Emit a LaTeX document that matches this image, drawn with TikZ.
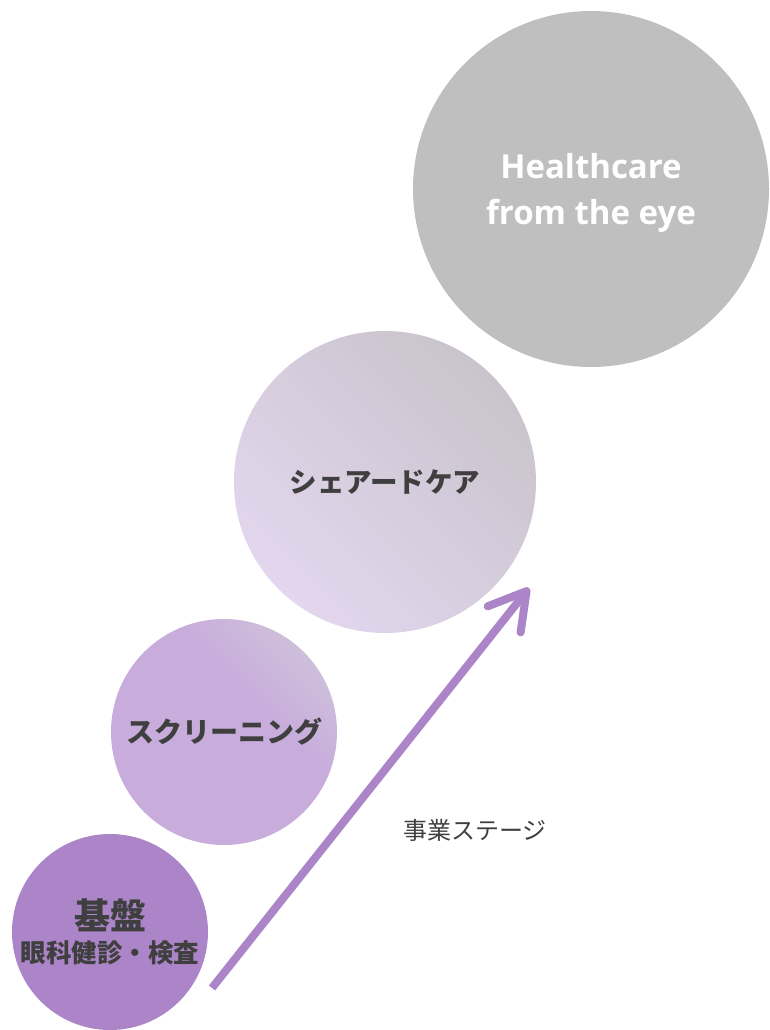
\documentclass[tikz,border=0pt]{standalone}
\usepackage{fontspec}
\usepackage{tikz}
\usetikzlibrary{arrows.meta}
\usetikzlibrary{positioning}
\newfontfamily\jp{Noto Sans CJK JP}
\newfontfamily\en{Open Sans}
\definecolor{txtgrey}{HTML}{3F3F3F}
\definecolor{kiban}{HTML}{AC84C8}
\definecolor{screen}{HTML}{C8ADDC}
\definecolor{screentop}{HTML}{D0C7D9}
\definecolor{sharedlo}{HTML}{E3D6EE}
\definecolor{sharedhi}{HTML}{C9C4CC}
\definecolor{goal}{HTML}{BFBFBF}
\definecolor{arrowc}{HTML}{AC84C8}
\pgfdeclarehorizontalshading{screenfade}{100bp}{color(0bp)=(screen); color(60bp)=(screen); color(82bp)=(screentop); color(100bp)=(screentop)}
\tikzset{every picture/.style={x=1pt,y=1pt},
stage/.style={circle,inner sep=0pt,text=txtgrey,font=\jp\bfseries,align=center}}

\begin{document}
\begin{tikzpicture}
\useasboundingbox (0,0) rectangle (769,-1030);

\node (goal) at (591,-189) [stage,minimum size=356pt,fill=goal,text=white,text depth=0pt,font=\en\bfseries\fontsize{33}{46}\selectfont] {Healthcare\\from the eye};
\node (shared) at (385,-482) [stage,minimum size=302pt,top color=sharedhi,bottom color=sharedlo,shading angle=-45,font=\jp\bfseries\fontsize{27.5}{32}\selectfont] {シェアードケア};
\node (screen) at (224,-732) [stage,minimum size=226pt,shading=screenfade,shading angle=45,font=\jp\bfseries\fontsize{28}{32}\selectfont] {スクリーニング};
\node (kiban) at (110,-932) [stage,minimum size=196pt,fill=kiban,font=\jp\bfseries] {{\fontsize{36}{38}\selectfont 基盤}\\[8pt]{\fontsize{25.5}{30}\selectfont 眼科健診・検査}};

\coordinate (from) at (212,-988);
\coordinate (to) at (529,-588);
\draw[arrowc,line width=8pt,-{Straight Barb[length=36pt,width=42pt,round]}] (from) -- (to);
\node (stagelbl) at (475,-830) [font=\jp\fontsize{24}{28}\selectfont,text=txtgrey] {事業ステージ};

\end{tikzpicture}
\end{document}
